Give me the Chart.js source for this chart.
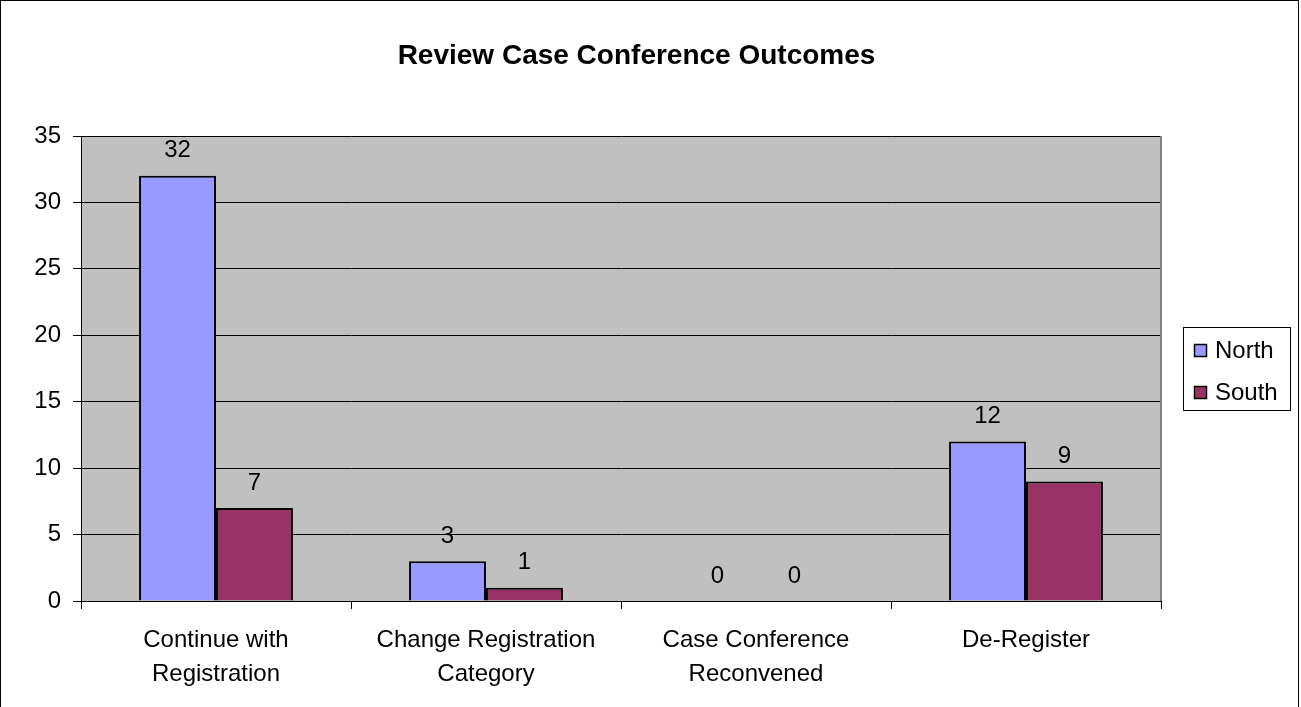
<!DOCTYPE html>
<html>
<head>
<meta charset="utf-8">
<script src="https://cdn.jsdelivr.net/npm/chart.js@4"></script>
<style>
  html, body { margin: 0; padding: 0; background: #fff; }
  #wrap { width: 1301px; height: 707px; position: relative; }
</style>
</head>
<body>
<div id="wrap"><canvas id="graph" width="1301" height="707"></canvas></div>
<script>
const categorias = [['Continue with', 'Registration'], ['Change Registration', 'Category'], ['Case Conference', 'Reconvened'], 'De-Register'];
const valoresNorth = [32, 3, 0, 12];
const valoresSouth = [7, 1, 0, 9];
const ticksY = [0, 5, 10, 15, 20, 25, 30, 35];
const fuente = '"Liberation Sans", Arial, sans-serif';

// fondo gris del area de trazado y marco exterior
const fondoPlot = {
    id: 'fondoPlot',
    beforeDraw: (chart) => {
        const ctx = chart.ctx;
        const a = chart.chartArea;
        ctx.save();
        ctx.fillStyle = '#fff';
        ctx.fillRect(0, 0, chart.width, chart.height);
        ctx.fillStyle = '#c0c0c0';
        ctx.fillRect(a.left, a.top, a.right - a.left, a.bottom - a.top);
        ctx.restore();
    },
    afterDraw: (chart) => {
        const ctx = chart.ctx;
        const a = chart.chartArea;
        ctx.save();
        ctx.strokeStyle = '#808080';
        ctx.lineWidth = 2;
        ctx.beginPath();
        ctx.moveTo(a.right, a.top);
        ctx.lineTo(a.right, a.bottom);
        ctx.stroke();
        ctx.strokeStyle = '#000';
        ctx.lineWidth = 1;
        ctx.strokeRect(0.5, 0.5, 1298, 720);
        ctx.restore();
    }
};

// etiquetas con el valor encima de cada barra
const etiquetas = {
    id: 'etiquetas',
    afterDatasetsDraw: (chart) => {
        const ctx = chart.ctx;
        ctx.save();
        ctx.font = '24px ' + fuente;
        ctx.fillStyle = '#000';
        ctx.textAlign = 'center';
        ctx.textBaseline = 'middle';
        chart.data.datasets.forEach((ds, i) => {
            chart.getDatasetMeta(i).data.forEach((bar, j) => {
                ctx.fillText(String(ds.data[j]), bar.x, bar.y - 25);
            });
        });
        ctx.restore();
    }
};

// leyenda con recuadro, estilo Excel
const leyenda = {
    id: 'leyenda',
    afterDraw: (chart) => {
        const ctx = chart.ctx;
        const x = 1183, y = 327, w = 107, h = 83;
        ctx.save();
        ctx.fillStyle = '#fff';
        ctx.fillRect(x, y, w, h);
        ctx.strokeStyle = '#000';
        ctx.lineWidth = 1;
        ctx.strokeRect(x + 0.5, y + 0.5, w, h);
        ctx.font = '24px ' + fuente;
        ctx.textBaseline = 'middle';
        chart.data.datasets.forEach((ds, i) => {
            const cy = y + 23 + i * 42;
            ctx.fillStyle = ds.backgroundColor;
            ctx.fillRect(x + 11, cy - 6, 13, 13);
            ctx.lineWidth = 1.5;
            ctx.strokeRect(x + 11.5, cy - 5.5, 12, 12);
            ctx.fillStyle = '#000';
            ctx.fillText(ds.label, x + 32, cy + 1);
        });
        ctx.restore();
    }
};

const data = {
    labels: categorias,
    datasets: [
        {
            label: 'North',
            data: valoresNorth,
            backgroundColor: '#9999ff',
            borderColor: '#000',
            borderWidth: 2,
            categoryPercentage: 0.57,
            barPercentage: 1.0,
        },
        {
            label: 'South',
            data: valoresSouth,
            backgroundColor: '#993366',
            borderColor: '#000',
            borderWidth: 2,
            categoryPercentage: 0.57,
            barPercentage: 1.0,
        }
    ]
};

const config = {
    type: 'bar',
    data: data,
    options: {
        responsive: false,
        animation: false,
        layout: { padding: { left: 0, right: 28, top: 0, bottom: 0 } },
        plugins: {
            legend: { display: false },
            tooltip: { enabled: false },
            title: {
                display: true,
                text: 'Review Case Conference Outcomes',
                color: '#000',
                font: { family: fuente, size: 28, weight: 'bold', lineHeight: 1.2 },
                padding: { top: 39, bottom: 63.4 },
            },
        },
        scales: {
            x: {
                grid: { drawOnChartArea: false, offset: true, tickLength: 8, color: '#000' },
                border: { color: '#000' },
                ticks: { color: '#000', font: { family: fuente, size: 24, lineHeight: 1.42 }, padding: 14, maxRotation: 0, autoSkip: false },
                afterFit: (scale) => { scale.height = 106; },
            },
            y: {
                min: 0,
                max: 35,
                afterBuildTicks: (scale) => { scale.ticks = ticksY.map((v) => ({ value: v })); },
                grid: { color: '#000', tickLength: 8 },
                border: { color: '#000' },
                ticks: { color: '#000', font: { family: fuente, size: 24 }, padding: 12 },
                afterFit: (scale) => { scale.width = 81; },
            },
            // espacio reservado para la leyenda
            espacio: {
                type: 'linear',
                position: 'right',
                display: true,
                grid: { display: false },
                border: { display: false },
                ticks: { display: false },
                afterFit: (scale) => { scale.width = 112; },
            },
        },
    },
    plugins: [fondoPlot, etiquetas, leyenda],
};

new Chart(document.getElementById('graph'), config);
</script>
</body>
</html>
